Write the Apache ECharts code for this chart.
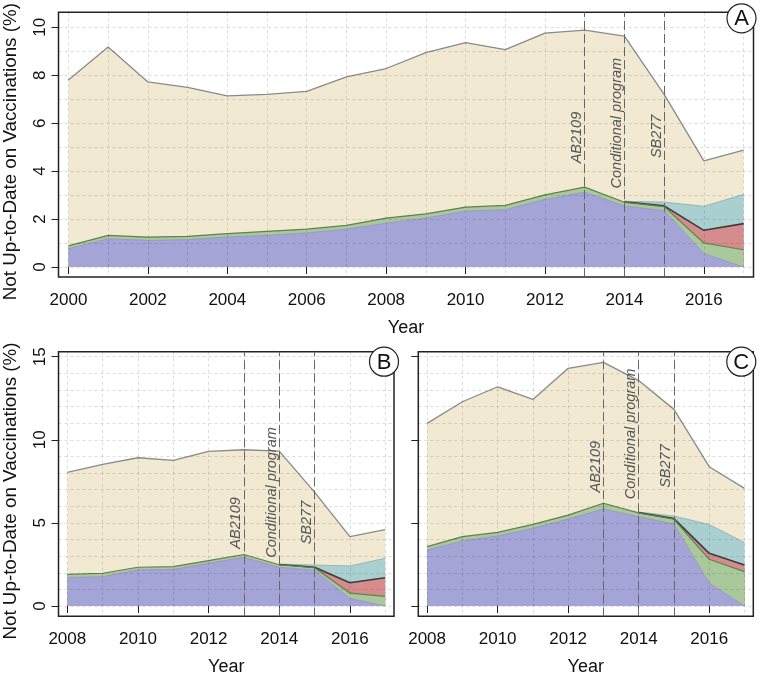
<!DOCTYPE html>
<html>
<head>
<meta charset="utf-8">
<script src="https://cdn.jsdelivr.net/npm/echarts@6/dist/echarts.min.js"></script>
<style>
html,body{margin:0;padding:0;background:#fff;}
#c{width:762px;height:676px;}
</style>
</head>
<body>
<div id="c"></div>
<script>
// ---------- DATA ----------
const yearsA = [2000,2001,2002,2003,2004,2005,2006,2007,2008,2009,2010,2011,2012,2013,2014,2015,2016,2017];
const yearsBC = [2008,2009,2010,2011,2012,2013,2014,2015,2016,2017];

// Panel A (stack layers, bottom to top)
const blueA  = [0.76,1.18,1.11,1.14,1.25,1.32,1.42,1.58,1.83,2.04,2.33,2.39,2.82,3.12,2.54,2.36,0.56,0.00];
const greenA = [0.12,0.14,0.14,0.14,0.14,0.17,0.16,0.16,0.21,0.18,0.17,0.18,0.19,0.21,0.16,0.16,0.44,0.72];
const redA   = [null,null,null,null,null,null,null,null,null,null,null,null,null,null,0.02,0.03,0.53,1.09];
const tealA  = [null,null,null,null,null,null,null,null,null,null,null,null,null,null,0.02,0.16,1.00,1.22];
const beigeA = [6.92,7.86,6.47,6.21,5.75,5.71,5.75,6.19,6.24,6.72,6.86,6.50,6.75,6.55,6.89,4.49,1.90,1.85];

// Panel B
const blueB  = [1.72,1.76,2.17,2.20,2.57,2.93,2.33,2.15,0.46,0.00];
const greenB = [0.18,0.21,0.16,0.17,0.16,0.17,0.15,0.15,0.32,0.58];
const redB   = [null,null,null,null,null,null,0.02,0.03,0.62,1.12];
const tealB  = [null,null,null,null,null,null,0.02,0.14,1.01,1.17];
const beigeB = [6.14,6.55,6.59,6.39,6.57,6.30,6.80,4.38,1.76,1.73];

// Panel C
const blueC  = [3.37,3.91,4.21,4.67,5.23,5.84,5.37,4.93,1.38,0.00];
const greenC = [0.20,0.26,0.22,0.24,0.24,0.34,0.23,0.29,1.43,2.07];
const redC   = [null,null,null,null,null,null,0.02,0.04,0.36,0.40];
const tealC  = [null,null,null,null,null,null,0.03,0.15,1.73,1.35];
const beigeC = [7.42,8.12,8.76,7.52,8.83,8.48,7.91,6.42,3.48,3.26];

// Policy events
const policyYears  = [2013, 2014, 2015];
const policyLabels = ["AB2109", "Conditional program", "SB277"];

// Tick values
const xTicksA = [2000,2002,2004,2006,2008,2010,2012,2014,2016];
const xTicksBC = [2008,2010,2012,2014,2016];
const yTicksA = [0,2,4,6,8,10];
const yTicksBC = [0,5,10,15];
const yGridA = [0,1,2,3,4,5,6,7,8,9,10];
const yGridBC = [0,1,2,3,4,5,6,7,8,9,10,11,12,13,14,15];

const yTitle = "Not Up-to-Date on Vaccinations (%)";
const xTitle = "Year";

// ---------- STYLE / LAYOUT ----------
const FONT = '"Liberation Sans", Arial, Helvetica, sans-serif';
const layerStyles = [
  {name:'Blue',  fill:'#a4a4d6', line:'#9494c6', lw:0.8},
  {name:'Green', fill:'#a9c89b', line:'#62804f', lw:1.2},
  {name:'Red',   fill:'#d68c8c', line:'#3c3c3c', lw:1.6},
  {name:'Teal',  fill:'#aacfd0', line:'#86aeae', lw:0.8},
  {name:'Beige', fill:'#f2e9d3', line:'#8a8a8a', lw:1.3}
];

const panels = [
  {letter:'A', grid:{left:58.5, top:12.3, width:695, height:264.7},
   years:yearsA, layers:[blueA,greenA,redA,tealA,beigeA],
   xMin:1999.75, xMax:2017.25, yMin:-0.417, yMax:10.625,
   xTicks:xTicksA, yTicks:yTicksA, yGrid:yGridA, yLabels:true,
   annY:[5.4, 6.0, 5.45], circle:[-12, 6]},
  {letter:'B', grid:{left:58.5, top:351.7, width:335.5, height:264.6},
   years:yearsBC, layers:[blueB,greenB,redB,tealB,beigeB],
   xMin:2007.75, xMax:2017.25, yMin:-0.62, yMax:15.3,
   xTicks:xTicksBC, yTicks:yTicksBC, yGrid:yGridBC, yLabels:true,
   annY:[5.0, 6.83, 5.02], circle:[-10, 10]},
  {letter:'C', grid:{left:418.3, top:351.7, width:335, height:264.6},
   years:yearsBC, layers:[blueC,greenC,redC,tealC,beigeC],
   xMin:2007.75, xMax:2017.25, yMin:-0.62, yMax:15.3,
   xTicks:xTicksBC, yTicks:yTicksBC, yGrid:yGridBC, yLabels:false,
   annY:[8.38, 10.35, 8.42], circle:[-12, 10]}
];

function range(a,b){const r=[];for(let v=a;v<=b;v++)r.push(v);return r;}

// cumulative (stacked) tops of each layer, built from the layer arrays
function cumulative(layers){
  const out = layers.map(() => []);
  const n = layers[0].length;
  for (let j = 0; j < n; j++){
    let sum = 0;
    for (let k = 0; k < layers.length; k++){
      const v = layers[k][j];
      if (v === null || v === undefined){ out[k].push(null); }
      else { sum += v; out[k].push(+sum.toFixed(4)); }
    }
  }
  return out;
}

const option = {
  animation:false,
  backgroundColor:'#fff',
  grid:[], xAxis:[], yAxis:[], series:[]
};

panels.forEach((p, i) => {
  option.grid.push(Object.assign({show:true, borderColor:'#222', borderWidth:1.5, backgroundColor:'transparent', containLabel:false, outerBoundsMode:'none'}, p.grid));
  option.xAxis.push({
    type:'value', gridIndex:i, min:p.xMin, max:p.xMax, position:'bottom',
    name:xTitle, nameLocation:'middle', nameGap:42,
    nameTextStyle:{fontFamily:FONT, fontSize:18, color:'#111'},
    axisLine:{show:false},
    axisTick:{show:true, length:7, inside:false, customValues:p.xTicks, lineStyle:{color:'#222', width:1}},
    axisLabel:{show:true, customValues:p.xTicks, margin:15, fontFamily:FONT, fontSize:17, color:'#111', formatter:v=>String(v)},
    splitLine:{show:false}
  });
  option.xAxis.push({
    type:'value', gridIndex:i, min:p.xMin, max:p.xMax, position:'top', z:3,
    axisLine:{show:false},
    axisTick:{show:false, customValues:range(p.years[0], p.years[p.years.length-1])},
    axisLabel:{show:false},
    splitLine:{show:true, customValues:range(p.years[0], p.years[p.years.length-1]), lineStyle:{color:'rgba(0,0,0,0.17)', width:0.8, type:[3,3]}}
  });
  option.yAxis.push({
    type:'value', gridIndex:i, min:p.yMin, max:p.yMax, position:'left',
    axisLine:{show:false},
    axisTick:{show:true, length:7, customValues:p.yTicks, lineStyle:{color:'#222', width:1}},
    axisLabel:{show:p.yLabels, customValues:p.yTicks, rotate:90, margin:10, fontFamily:FONT, fontSize:17, color:'#111'},
    splitLine:{show:false}
  });
  option.yAxis.push({
    type:'value', gridIndex:i, min:p.yMin, max:p.yMax, position:'right', z:3,
    axisLine:{show:false},
    axisTick:{show:false, customValues:p.yGrid},
    axisLabel:{show:false},
    splitLine:{show:true, customValues:p.yGrid, lineStyle:{color:'rgba(0,0,0,0.17)', width:0.8, type:[3,3]}}
  });
  const cum = cumulative(p.layers);
  // painter's order: top layer first, bottom layer last
  for (let k = p.layers.length - 1; k >= 0; k--){
    const st = layerStyles[k];
    const s = {
      type:'line', name:st.name, xAxisIndex:2*i, yAxisIndex:2*i,
      symbol:'none', showSymbol:false, connectNulls:false, silent:true,
      data: p.years.map((y, j) => [y, cum[k][j]]),
      lineStyle:{color:st.line, width:st.lw},
      areaStyle:{color:st.fill, opacity:1, origin:0},
      z:2
    };
    if (k === 0) {
      s.markLine = {
        silent:true, symbol:['none','none'], label:{show:false},
        lineStyle:{color:'#666', type:[9,4], width:1},
        data: policyYears.map(y => ({xAxis:y}))
      };
    }
    option.series.push(s);
  }
});

const chart = echarts.init(document.getElementById('c'), null, {renderer:'canvas', width:762, height:676});
chart.setOption(option);

const graphics = [];
panels.forEach((p, i) => {
  policyYears.forEach((yr, k) => {
    const pt = chart.convertToPixel({gridIndex:i}, [yr, p.annY[k]]);
    graphics.push({
      type:'text', x:pt[0]-7.5, y:pt[1], rotation:Math.PI/2, z:50,
      style:{text:policyLabels[k], font:'italic 14.5px ' + FONT, fill:'#555', align:'center', verticalAlign:'middle'}
    });
  });
  if (p.yLabels) {
    graphics.push({
      type:'text', x:11, y:p.grid.top + p.grid.height/2 + 7, rotation:Math.PI/2, z:50,
      style:{text:yTitle, font:'18.8px ' + FONT, fill:'#111', align:'center', verticalAlign:'middle'}
    });
  }
  const cx = p.grid.left + p.grid.width + p.circle[0];
  const cy = p.grid.top + p.circle[1];
  graphics.push({type:'circle', shape:{cx:cx, cy:cy, r:14.5}, style:{fill:'#fff', stroke:'#222', lineWidth:1.2}, z:60});
  graphics.push({type:'text', x:cx, y:cy+1, z:61, style:{text:p.letter, font:'22px ' + FONT, fill:'#111', align:'center', verticalAlign:'middle'}});
});
chart.setOption({graphic:graphics});
</script>
</body>
</html>
